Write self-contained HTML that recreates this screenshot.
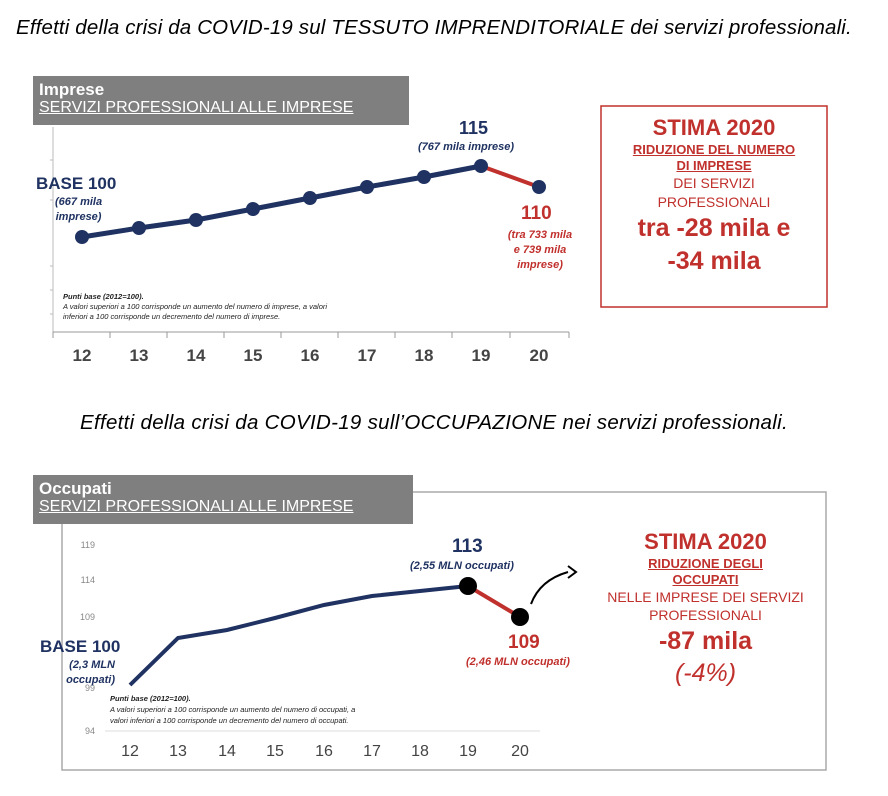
<!DOCTYPE html>
<html><head><meta charset="utf-8"><style>
body{margin:0;width:888px;height:796px;background:#fff;font-family:"Liberation Sans",sans-serif;position:relative;overflow:hidden}
.a{position:absolute;white-space:nowrap}
.ti{font-family:"Liberation Sans",sans-serif;font-style:italic;font-size:20.5px;color:#000}
.hd{position:absolute;background:#7f7f7f;color:#fff}
.hd b{font-size:17px;display:block;line-height:19px}
.hd u{font-size:16px;display:block;line-height:18px}
.red{color:#c0302c}.blu{color:#1f3261}
</style></head><body>
<div class="a ti" style="left:16px;top:16px;letter-spacing:0.15px">Effetti della crisi da COVID-19 sul TESSUTO IMPRENDITORIALE dei servizi professionali.</div>
<div class="a ti" style="left:80px;top:411px;letter-spacing:0.3px">Effetti della crisi da COVID-19 sull’OCCUPAZIONE nei servizi professionali.</div>

<div class="hd" style="left:33px;top:76px;width:376px;height:49px;padding:4px 0 0 6px;box-sizing:border-box"><b>Imprese</b><u>SERVIZI PROFESSIONALI ALLE IMPRESE</u></div>
<div class="hd" style="left:33px;top:475px;width:380px;height:49px;padding:4px 0 0 6px;box-sizing:border-box"><b>Occupati</b><u>SERVIZI PROFESSIONALI ALLE IMPRESE</u></div>

<svg class="a" style="left:0;top:0" width="888" height="796">
<line x1="53" y1="127" x2="53" y2="332" stroke="#bbb"/>
<line x1="53" y1="332" x2="569" y2="332" stroke="#999"/>
<g stroke="#999"><line x1="53" y1="332" x2="53" y2="338"/><line x1="110" y1="332" x2="110" y2="338"/><line x1="167" y1="332" x2="167" y2="338"/><line x1="224" y1="332" x2="224" y2="338"/><line x1="281" y1="332" x2="281" y2="338"/><line x1="338" y1="332" x2="338" y2="338"/><line x1="395" y1="332" x2="395" y2="338"/><line x1="452" y1="332" x2="452" y2="338"/><line x1="510" y1="332" x2="510" y2="338"/><line x1="569" y1="332" x2="569" y2="338"/></g>
<g stroke="#bbb"><line x1="50" y1="160" x2="53" y2="160"/><line x1="50" y1="200" x2="53" y2="200"/><line x1="50" y1="266" x2="53" y2="266"/><line x1="50" y1="290" x2="53" y2="290"/><line x1="50" y1="314" x2="53" y2="314"/></g>
<polyline points="82,237 139,228 196,220 253,209 310,198 367,187 424,177 481,166" fill="none" stroke="#1f3261" stroke-width="5"/>
<line x1="481" y1="166" x2="539" y2="187" stroke="#c0302c" stroke-width="4"/>
<g fill="#1f3261"><circle cx="82" cy="237" r="7"/><circle cx="139" cy="228" r="7"/><circle cx="196" cy="220" r="7"/><circle cx="253" cy="209" r="7"/><circle cx="310" cy="198" r="7"/><circle cx="367" cy="187" r="7"/><circle cx="424" cy="177" r="7"/><circle cx="481" cy="166" r="7"/><circle cx="539" cy="187" r="7"/></g>
<g font-family="Liberation Sans" font-weight="bold" font-size="17" fill="#444" text-anchor="middle"><text x="82" y="361">12</text><text x="139" y="361">13</text><text x="196" y="361">14</text><text x="253" y="361">15</text><text x="310" y="361">16</text><text x="367" y="361">17</text><text x="424" y="361">18</text><text x="481" y="361">19</text><text x="539" y="361">20</text></g>
<rect x="601" y="106" width="226" height="201" fill="none" stroke="#c0302c" stroke-width="1.5"/>
<polyline points="413,492 826,492 826,770 62,770 62,524" fill="none" stroke="#aaa" stroke-width="1.5"/>
<line x1="105" y1="731" x2="540" y2="731" stroke="#ddd"/>
<g font-family="Liberation Sans" font-size="9" fill="#888" text-anchor="end"><text x="95" y="548">119</text><text x="95" y="583">114</text><text x="95" y="620">109</text><text x="95" y="691">99</text><text x="95" y="734">94</text></g>
<polyline points="130,685 178,638 227,630 275,618 324,605 372,596 420,591 468,586" fill="none" stroke="#1f3261" stroke-width="4"/>
<line x1="468" y1="586" x2="520" y2="617" stroke="#c0302c" stroke-width="4"/>
<circle cx="468" cy="586" r="9" fill="#000"/><circle cx="520" cy="617" r="9" fill="#000"/>
<path d="M531 604 Q540 580 568 572" fill="none" stroke="#000" stroke-width="2"/><path d="M568 566 L576 572 L568 578" fill="none" stroke="#000" stroke-width="2"/>
<g font-family="Liberation Sans" font-size="16" fill="#444" text-anchor="middle"><text x="130" y="756">12</text><text x="178" y="756">13</text><text x="227" y="756">14</text><text x="275" y="756">15</text><text x="324" y="756">16</text><text x="372" y="756">17</text><text x="420" y="756">18</text><text x="468" y="756">19</text><text x="520" y="756">20</text></g>
</svg>

<div class="a blu" style="left:36px;top:174px;font-weight:bold;font-size:17px">BASE 100</div>
<div class="a blu" style="left:55px;top:195px;font-weight:bold;font-style:italic;font-size:11px;text-align:center;line-height:15px">(667 mila<br>imprese)</div>
<div class="a blu" style="left:459px;top:118px;font-weight:bold;font-size:18px">115</div>
<div class="a blu" style="left:418px;top:141px;font-weight:bold;font-style:italic;font-size:11px">(767 mila imprese)</div>
<div class="a red" style="left:521px;top:203px;font-weight:bold;font-size:19px">110</div>
<div class="a red" style="left:500px;top:228px;font-weight:bold;font-style:italic;font-size:11px;text-align:center;line-height:15px;width:80px">(tra 733 mila<br>e 739 mila<br>imprese)</div>
<div class="a" style="left:63px;top:292px;font-size:7.5px;font-style:italic;line-height:10px;color:#222"><b>Punti base (2012=100).</b><br>A valori superiori a 100 corrisponde un aumento del numero di imprese, a valori<br>inferiori a 100 corrisponde un decremento del numero di imprese.</div>
<div class="a red" style="left:601px;top:114px;width:226px;text-align:center">
<div style="font-weight:bold;font-size:22px;line-height:28px">STIMA 2020</div>
<div style="font-weight:bold;font-size:13px;line-height:16px;text-decoration:underline">RIDUZIONE DEL NUMERO<br>DI IMPRESE</div>
<div style="font-size:14px;line-height:19px">DEI SERVIZI<br>PROFESSIONALI</div>
<div style="font-weight:bold;font-size:25px;line-height:33px">tra -28 mila e<br>-34 mila</div></div>

<div class="a blu" style="left:40px;top:637px;font-weight:bold;font-size:17px">BASE 100</div>
<div class="a blu" style="left:52px;top:658px;font-weight:bold;font-style:italic;font-size:11px;text-align:right;line-height:15px;width:63px">(2,3 MLN<br>occupati)</div>
<div class="a blu" style="left:452px;top:536px;font-weight:bold;font-size:19px">113</div>
<div class="a blu" style="left:410px;top:560px;font-weight:bold;font-style:italic;font-size:11px">(2,55 MLN occupati)</div>
<div class="a red" style="left:508px;top:632px;font-weight:bold;font-size:19px">109</div>
<div class="a red" style="left:466px;top:656px;font-weight:bold;font-style:italic;font-size:11px">(2,46 MLN occupati)</div>
<div class="a" style="left:110px;top:693px;font-size:7.5px;font-style:italic;line-height:11px;color:#222"><b>Punti base (2012=100).</b><br>A valori superiori a 100 corrisponde un aumento del numero di occupati, a<br>valori inferiori a 100 corrisponde un decremento del numero di occupati.</div>
<div class="a red" style="left:588px;top:528px;width:235px;text-align:center">
<div style="font-weight:bold;font-size:22px;line-height:28px">STIMA 2020</div>
<div style="font-weight:bold;font-size:13px;line-height:16px;text-decoration:underline">RIDUZIONE DEGLI<br>OCCUPATI</div>
<div style="font-size:14px;line-height:18px">NELLE IMPRESE DEI SERVIZI<br>PROFESSIONALI</div>
<div style="font-weight:bold;font-size:25px;line-height:34px">-87 mila</div>
<div style="font-style:italic;font-size:25px;line-height:30px">(-4%)</div></div>
</body></html>
